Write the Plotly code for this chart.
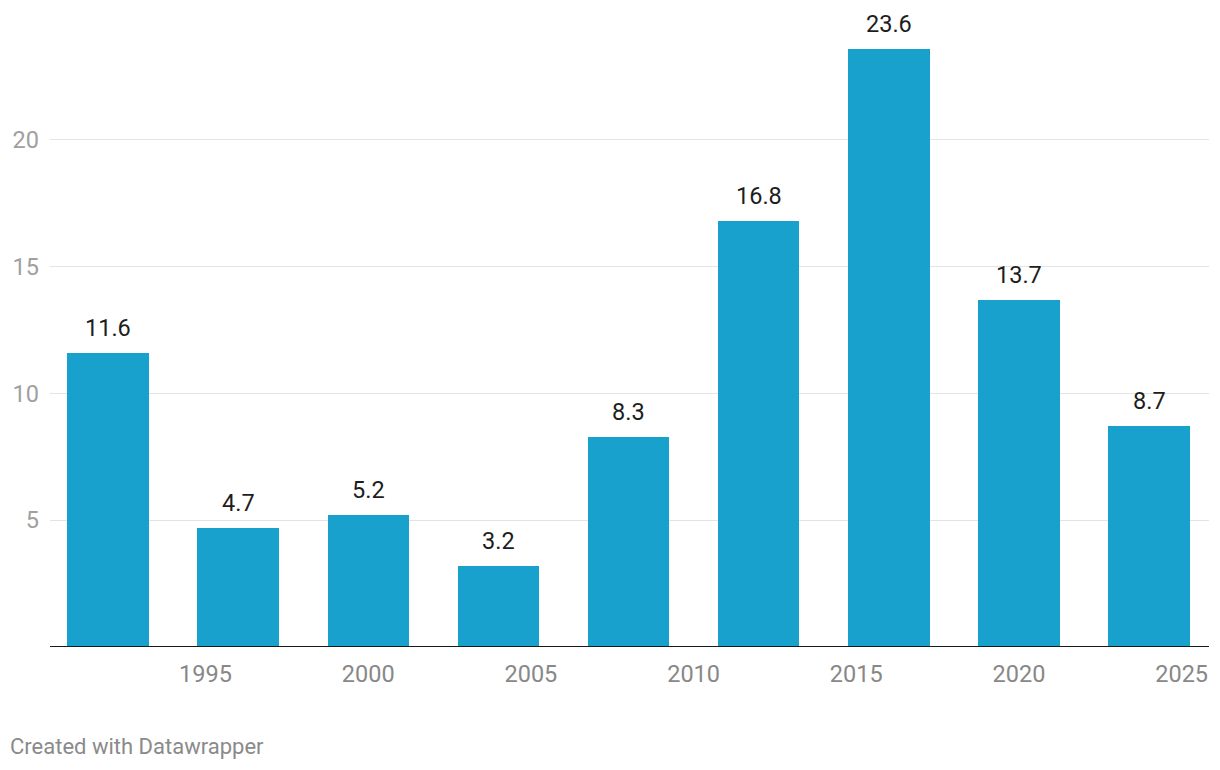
import plotly.graph_objects as go

years = [1992, 1996, 2000, 2004, 2008, 2012, 2016, 2020, 2024]
values = [11.6, 4.7, 5.2, 3.2, 8.3, 16.8, 23.6, 13.7, 8.7]
x_ticks = [1995, 2000, 2005, 2010, 2015, 2020, 2025]
y_ticks = [5, 10, 15, 20]

# page body has an 8px margin; compensate
W, H = 1212, 762
ml, mr, mt, mb = 40, 11, 5, 123
plot_w = W - ml - mr
plot_h = H - mt - mb

fig = go.Figure()
fig.add_trace(go.Bar(
    x=years, y=values, width=2.5,
    marker=dict(color="#18a1cd", line=dict(width=0)),
    hoverinfo="x+y",
))

for xv, yv in zip(years, values):
    fig.add_annotation(
        x=xv, y=yv, text=f"{yv:.1f}", showarrow=False,
        yanchor="bottom", yshift=9,
        font=dict(family="Roboto", size=23.5, color="#1d1d1d"),
    )

fig.add_annotation(
    xref="paper", yref="paper",
    x=(-2 - ml) / plot_w, y=-(738 - (mt + plot_h)) / plot_h,
    xanchor="left", yanchor="middle",
    text="Created with Datawrapper", showarrow=False,
    font=dict(family="Roboto", size=22, color="#8a8a8a"),
)

fig.update_layout(
    width=W, height=H,
    margin=dict(l=ml, r=mr, t=mt, b=mb),
    paper_bgcolor="white", plot_bgcolor="white",
    showlegend=False, bargap=0,
    font=dict(family="Roboto"),
    xaxis=dict(
        range=[1990.22, 2025.84],
        tickvals=x_ticks, ticktext=[str(t) for t in x_ticks],
        showgrid=False, zeroline=False,
        showline=False, ticks="",
        ticklabelstandoff=10,
        tickfont=dict(family="Roboto", size=23.5, color="#888888"),
    ),
    yaxis=dict(
        range=[0, 25],
        tickvals=y_ticks, ticktext=[str(t) for t in y_ticks],
        showgrid=True, gridcolor="#e3e3e3", gridwidth=1,
        zeroline=False, showline=False, ticks="",
        ticklabelstandoff=10,
        tickfont=dict(family="Roboto", size=23.5, color="#a0a0a0"),
    ),
    shapes=[dict(
        type="line", xref="paper", yref="y",
        x0=0, x1=1, y0=0, y1=0,
        line=dict(color="#1a1a1a", width=2),
    )],
)

fig.write_html("out.html")
